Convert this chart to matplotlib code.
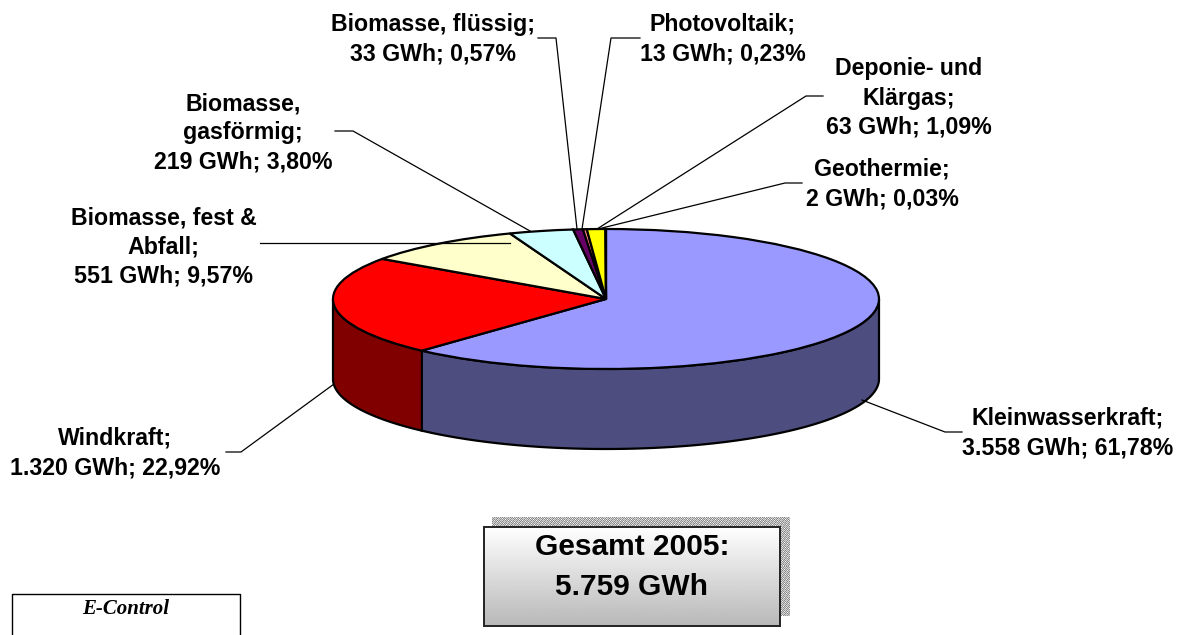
import numpy as np
import matplotlib
matplotlib.use('Agg')
from matplotlib import pyplot as plt
from matplotlib.patches import Rectangle, Polygon

plt.rcParams['font.family'] = ['Liberation Sans', 'DejaVu Sans']

# shares in percent, clockwise from the top of the pie
names = ['Kleinwasserkraft', 'Windkraft', 'Biomasse, fest & Abfall', 'Biomasse, gasförmig',
         'Biomasse, flüssig', 'Photovoltaik', 'Deponie- und Klärgas', 'Geothermie']
shares = [61.78, 22.92, 9.57, 3.80, 0.57, 0.23, 1.09, 0.03]
colors = ['#9999ff', '#ff0000', '#ffffcc', '#ccffff', '#660066', '#ff8080', '#ffff00', '#000080']
side_colors = ['#4d4d80', '#800000']

labels = ['Kleinwasserkraft;\n3.558 GWh; 61,78%', 'Windkraft;\n1.320 GWh; 22,92%',
          'Biomasse, fest &\nAbfall;\n551 GWh; 9,57%', 'Biomasse,\ngasförmig;\n219 GWh; 3,80%',
          'Biomasse, flüssig;\n33 GWh; 0,57%', 'Photovoltaik;\n13 GWh; 0,23%',
          'Deponie- und\nKlärgas;\n63 GWh; 1,09%', 'Geothermie;\n2 GWh; 0,03%']
# label centre and leader line, in pixels
label_pos = [(1068, 433), (115, 453), (163.5, 247), (243, 133), (433, 39), (723, 39), (909, 98), (882, 184)]
leaders = [[(862, 400), (945, 432), (962, 432)], [(334, 384), (241, 452), (226, 452)],
           [(510, 243), (260, 243)], [(530, 231), (353, 131), (335, 131)],
           [(577, 229), (556, 38), (538, 38)], [(582, 229), (611, 38), (640, 38)],
           [(597, 229), (806, 96), (823, 96)], [(598, 229), (785, 183), (802, 183)]]

W, H = 1183, 635
fig = plt.figure(figsize=(W / 100, H / 100), dpi=100)

# overlay in pixel coordinates
bg = fig.add_axes([0, 0, 1, 1], zorder=3)
bg.axis('off')
bg.patch.set_alpha(0)

# pie axes, unit circle squashed into the top ellipse
left, right, top, bottom = 333, 879, 229, 369
ax = fig.add_axes([left / W, 1 - bottom / H, (right - left) / W, (bottom - top) / H], zorder=2)
ax.patch.set_alpha(0)
depth = 80 / ((bottom - top) / 2)

# visible side wall, only the two front slices reach it
split = shares[0] * 3.6
for col, a0, a1 in zip(side_colors, [90, split], [split, 270]):
    th = np.radians(np.linspace(a0, a1, 120))
    x, y = np.sin(th), np.cos(th)
    pts = np.r_[np.c_[x, y], np.c_[x, y - depth][::-1]]
    ax.add_patch(Polygon(pts, closed=True, facecolor=col, edgecolor='black', lw=1.6, clip_on=False, zorder=1))

wedges, _ = ax.pie(shares, colors=colors, startangle=90, counterclock=False, radius=1,
                   wedgeprops=dict(edgecolor='black', linewidth=1.6, clip_on=False, zorder=2))
ax.set_aspect('auto')
ax.set_xlim(-1, 1)
ax.set_ylim(-1, 1)
ax.axis('off')

for lab, (tx, ty), pts in zip(labels, label_pos, leaders):
    bg.text(tx, ty, lab, ha='center', va='center', fontsize=16.7, fontweight='bold', linespacing=1.36)
    pts = np.array(pts)
    bg.plot(pts[:, 0], pts[:, 1], color='black', lw=0.9)

# shadow of the total box, fine grey dither
yy, xx = np.indices((100, 298))
dither = ((xx + yy) % 2) * 0.28 + ((xx * 3 + yy * 5) % 7 == 0) * 0.15 + 0.55
bg.imshow(dither, cmap='gray', vmin=0, vmax=1, extent=(492, 790, 616, 517), aspect='auto', zorder=1,
          interpolation='nearest')

# total box with grey gradient
grad = np.linspace(1.0, 0.72, 100).reshape(-1, 1)
bg.imshow(grad, cmap='gray', vmin=0, vmax=1, extent=(484, 780, 626, 527), aspect='auto', zorder=2)
bg.add_patch(Rectangle((484, 527), 296, 99, fill=False, edgecolor='#222222', lw=1.4, zorder=3))
bg.text(632, 567, 'Gesamt 2005:\n5.759 GWh', ha='center', va='center', fontsize=21.5, fontweight='bold',
        linespacing=1.55, zorder=4)
bg.set_xlim(0, W)
bg.set_ylim(H, 0)

# source box, runs off the bottom of the picture
bg.plot([12, 12, 240, 240], [636, 594, 594, 636], color='black', lw=1.0)
bg.text(126, 609, 'E-Control', ha='center', va='center', fontsize=15, family='Liberation Serif',
        style='italic', fontweight='bold')

fig.savefig('out.png', dpi=100, facecolor='white')
